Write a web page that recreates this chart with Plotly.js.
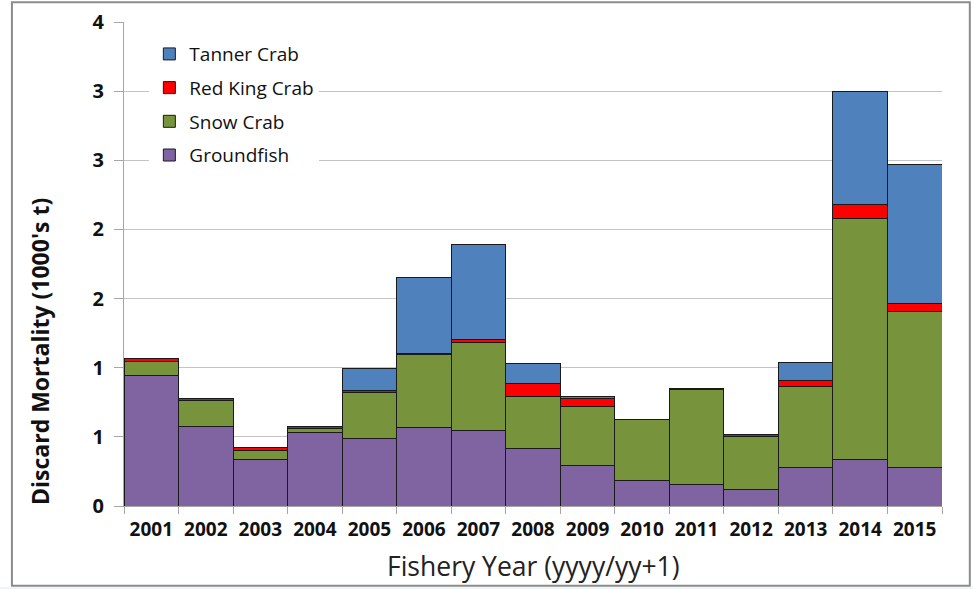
<!DOCTYPE html>
<html>
<head>
<meta charset="utf-8">
<script src="https://cdn.plot.ly/plotly-3.0.1.min.js"></script>
<style>
html,body{margin:0;padding:0;background:#fff;}
#chart{width:973px;height:589px;}
</style>
</head>
<body>
<div id="chart"></div>
<script>
const years = ['2001','2002','2003','2004','2005','2006','2007','2008','2009','2010','2011','2012','2013','2014','2015'];
const groundfish = [0.942,0.573,0.333,0.533,0.489,0.569,0.547,0.417,0.291,0.181,0.157,0.121,0.277,0.338,0.277];
const snowCrab   = [0.104,0.188,0.070,0.029,0.335,0.528,0.637,0.376,0.432,0.441,0.689,0.380,0.586,1.743,1.133];
const redKingCrab= [0.020,0.020,0.021,0.016,0.013,0.007,0.021,0.094,0.056,0.003,0.003,0.017,0.048,0.098,0.058];
const tannerCrab = [0.000,0.000,0.000,0.000,0.156,0.552,0.689,0.142,0.016,0.000,0.000,0.000,0.125,0.815,1.000];
const yTickVals = [0,0.5,1,1.5,2,2.5,3,3.5];
const yTickText = ['0','1','1','2','2','3','3','4'];
const xTitle = 'Fishery Year (yyyy/yy+1)';
const yTitle = "Discard Mortality (1000's t)";

const lineCol = '#1a1a1a';
function bar(name, y, color, rank){
  return {type:'bar', name:name, legendgroup:name, legendrank:rank, x:years, y:y,
    marker:{color:color, line:{color:lineCol, width:1}},
    hoverinfo:'x+y+name'};
}
const data = [
  bar('Groundfish', groundfish, '#8064A2', 4),
  bar('Snow Crab', snowCrab, '#77933C', 3),
  bar('Red King Crab', redKingCrab, '#FF0000', 2),
  bar('Tanner Crab', tannerCrab, '#4F81BD', 1)
];

const layout = {
  width:973, height:589,
  margin:{l:124, r:31, t:22, b:83},
  paper_bgcolor:'#ffffff', plot_bgcolor:'#ffffff',
  barmode:'stack', bargap:0,
  font:{family:'Open Sans, sans-serif', color:'#000'},
  showlegend:true,
  legend:{x:0.031, y:0.973, xanchor:'left', yanchor:'top', traceorder:'grouped',
    bgcolor:'#ffffff', font:{size:19, color:'#111'}, tracegroupgap:6, itemwidth:30},
  xaxis:{type:'category', showgrid:false, showline:true, linecolor:'#a6a6a6', linewidth:1,
    ticks:'outside', tickson:'boundaries', ticklen:7, tickcolor:'#a6a6a6',
    ticklabelstandoff:6,
    tickfont:{size:19, family:'Open Sans, sans-serif', weight:'bold', color:'#111'},
    fixedrange:true},
  yaxis:{range:[0,3.5], tickvals:yTickVals, ticktext:yTickText,
    showgrid:true, gridcolor:'#c4c4c4', gridwidth:1,
    showline:true, linecolor:'#a6a6a6', linewidth:1, zeroline:false,
    ticks:'outside', ticklen:9, tickcolor:'#a6a6a6', ticklabelstandoff:6,
    tickfont:{size:20, family:'Open Sans, sans-serif', weight:'bold', color:'#111'},
    fixedrange:true},
  annotations:[
    {text:xTitle, xref:'paper', yref:'paper', x:0.5, y:(506-566)/484, xanchor:'center', yanchor:'middle',
     showarrow:false, font:{size:26.5, color:'#222'}},
    {text:yTitle, xref:'paper', yref:'paper', x:(40-124)/818, y:(506-352)/484, xanchor:'center', yanchor:'middle',
     textangle:-90, showarrow:false, font:{size:23, weight:'bold', color:'#111'}}
  ],
  shapes:[
    {type:'rect', xref:'paper', yref:'paper', x0:-0.137, x1:1.034, y0:-0.165, y1:1.041,
     line:{color:'#8c8c8c', width:2}, fillcolor:'rgba(0,0,0,0)', layer:'below'},
    {type:'rect', xref:'paper', yref:'paper', x0:-0.2, x1:1.2, y0:-0.175, y1:-0.168,
     line:{width:0}, fillcolor:'#e8f6f7', layer:'below'}
  ]
};
Plotly.newPlot('chart', data, layout, {displayModeBar:false, staticPlot:true});
</script>
</body>
</html>
